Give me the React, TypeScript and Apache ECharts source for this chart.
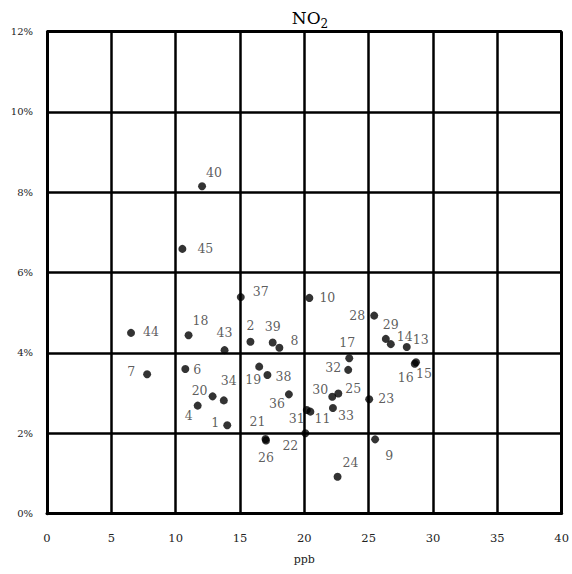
import React, { useEffect, useRef } from "react";
import * as echarts from "echarts";

// Site numbers and their readings (x: ppb, y: %)
const siteIds = ["40", "45", "37", "10", "28", "29", "14", "13", "16", "15", "17", "32", "30", "25", "33", "11", "31", "23", "22", "9", "24", "8", "39", "2", "43", "18", "44", "7", "6", "19", "38", "20", "34", "4", "1", "36", "26", "21"];
const ppbValues = [12.05, 10.52, 15.06, 20.39, 25.43, 26.33, 26.72, 27.96, 28.58, 28.68, 23.49, 23.41, 22.17, 22.64, 22.22, 20.47, 20.19, 25.04, 20.08, 25.5, 22.58, 18.06, 17.54, 15.81, 13.8, 11.0, 6.53, 7.78, 10.75, 16.49, 17.13, 12.87, 13.74, 11.71, 14.01, 18.8, 17.02, 16.98];
const pctValues = [8.15, 6.59, 5.39, 5.37, 4.93, 4.35, 4.22, 4.15, 3.73, 3.77, 3.87, 3.58, 2.91, 2.99, 2.63, 2.54, 2.58, 2.85, 2.0, 1.85, 0.92, 4.13, 4.26, 4.28, 4.07, 4.44, 4.5, 3.47, 3.6, 3.66, 3.45, 2.92, 2.82, 2.69, 2.2, 2.97, 1.82, 1.86];
const xTicks = [0, 5, 10, 15, 20, 25, 30, 35, 40];
const yTicks = [0, 2, 4, 6, 8, 10, 12];

// label placement (layout only)
const labelOffsets: Record<string, [number, number]> = {
  "40": [12, -14], "45": [23, 0], "37": [20, -6], "10": [18, 0], "28": [-17, 0],
  "29": [5, -14], "14": [14, -8], "13": [14, -7], "16": [-9, 14], "15": [8, 11],
  "17": [-2, -16], "32": [-15, -2], "30": [-12, -7], "25": [15, -5], "33": [13, 7],
  "11": [12, 7], "31": [-10, 8], "23": [17, -1], "22": [-15, 12], "9": [14, 16],
  "24": [13, -14], "8": [15, -7], "39": [0, -16], "2": [0, -16], "43": [0, -18],
  "18": [12, -15], "44": [20, -1], "7": [-16, -3], "6": [12, 0], "19": [-6, 13],
  "38": [16, 1], "20": [-13, -6], "34": [5, -20], "4": [-9, 10], "1": [-12, -3],
  "36": [-12, 9], "26": [0, 17], "21": [-8, -17],
};

const FONT = "DejaVu Serif";

export default function App() {
  const ref = useRef<HTMLDivElement>(null);
  useEffect(() => {
    if (!ref.current) return;
    const chart = echarts.init(ref.current, undefined, { renderer: "svg" });
    const data = siteIds.map((id, i) => ({
      name: id,
      value: [ppbValues[i], pctValues[i]],
      label: { offset: labelOffsets[id] || [12, 0] },
    }));
    chart.setOption({
      animation: false,
      textStyle: { fontFamily: FONT },
      title: {
        text: "{a|NO}{b|2}",
        left: 305,
        top: 4,
        textAlign: "center",
        textStyle: {
          fontWeight: "normal",
          fontFamily: FONT,
          rich: {
            a: { fontFamily: FONT, fontWeight: "normal", fontSize: 17, color: "#000", verticalAlign: "bottom" },
            b: { fontFamily: FONT, fontWeight: "normal", fontSize: 12, color: "#000", verticalAlign: "bottom", padding: [0, 0, -4, 0] },
          },
        },
      },
      grid: { left: 47, right: 9, top: 31.5, bottom: 60.3, show: false },
      xAxis: {
        type: "value",
        min: xTicks[0],
        max: xTicks[xTicks.length - 1],
        interval: 5,
        name: "ppb",
        nameLocation: "middle",
        nameGap: 40,
        nameTextStyle: { fontFamily: FONT, fontSize: 11, color: "#222" },
        axisLine: { show: true, onZero: false, lineStyle: { color: "#000", width: 3 } },
        axisTick: { show: false },
        axisLabel: { margin: 18, fontFamily: FONT, fontSize: 11.5, color: "#222" },
        splitLine: { show: true, lineStyle: { color: "#000", width: 2.5 } },
      },
      yAxis: {
        type: "value",
        min: yTicks[0],
        max: yTicks[yTicks.length - 1],
        interval: 2,
        axisLine: { show: true, onZero: false, lineStyle: { color: "#000", width: 3 } },
        axisTick: { show: false },
        axisLabel: { margin: 14, fontFamily: FONT, fontSize: 10, color: "#222", formatter: "{value}%" },
        splitLine: { show: true, lineStyle: { color: "#000", width: 2.5 } },
      },
      series: [
        {
          type: "line",
          data: [],
          markLine: {
            silent: true,
            symbol: "none",
            label: { show: false },
            lineStyle: { color: "#000", width: 3, type: "solid" },
            data: [{ xAxis: 40 }, { yAxis: 12 }],
          },
        },
        {
          type: "scatter",
          symbol: "circle",
          symbolSize: 8,
          itemStyle: { color: "#000" },
          label: {
            show: true,
            position: "inside",
            formatter: "{b}",
            fontFamily: FONT,
            fontSize: 12.5,
            color: "#333",
            textBorderWidth: 0,
          },
          data,
          z: 5,
        },
      ],
    });
    return () => chart.dispose();
  }, []);
  return <div ref={ref} style={{ width: 572, height: 574, position: "absolute", left: 0, top: 0 }} />;
}
